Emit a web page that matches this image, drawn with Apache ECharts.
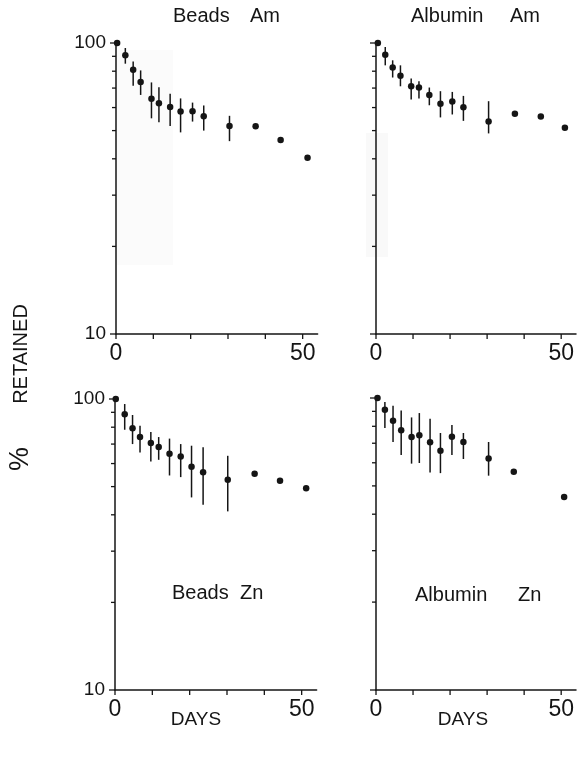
<!DOCTYPE html>
<html>
<head>
<meta charset="utf-8">
<script src="https://cdn.jsdelivr.net/npm/echarts@6/dist/echarts.min.js"></script>
<style>
  html, body { margin: 0; padding: 0; background: #fff; }
  #chart { width: 579px; height: 757px; }
</style>
</head>
<body>
<div id="chart"></div>
<script>
// ---- Retention data (% retained vs days), mean with error-bar range ----
const beadsAmDays  = [0.3, 2.5, 4.6, 6.6, 9.5, 11.5, 14.5, 17.3, 20.5, 23.5, 30.4, 37.4, 44.1, 51.3];
const beadsAmMean  = [100, 90.7, 80.9, 73.4, 64.3, 62.1, 60.3, 58.1, 58.3, 56.0, 51.9, 51.7, 46.4, 40.3];
const beadsAmHigh  = [null, 96.1, 86.4, 80.5, 73.2, 70.5, 66.9, 64.5, 62.4, 61.0, 56.2, null, null, null];
const beadsAmLow   = [null, 84.9, 71.3, 66.3, 55.1, 53.4, 51.9, 49.3, 53.7, 50.0, 46.0, null, null, null];

const albuminAmDays = [0.5, 2.5, 4.5, 6.6, 9.5, 11.6, 14.4, 17.4, 20.6, 23.6, 30.4, 37.5, 44.5, 51.0];
const albuminAmMean = [100, 91.2, 82.3, 77.1, 71.0, 70.3, 66.3, 61.8, 62.9, 60.2, 53.7, 57.1, 55.9, 51.1];
const albuminAmHigh = [null, 96.9, 87.2, 83.8, 75.5, 73.9, 70.3, 68.3, 67.9, 65.8, 63.1, null, null, null];
const albuminAmLow  = [null, 83.8, 76.1, 71.0, 63.9, 64.4, 61.1, 55.5, 56.8, 54.0, 48.9, null, null, null];

const beadsZnDays  = [0.2, 2.6, 4.7, 6.7, 9.6, 11.7, 14.6, 17.6, 20.5, 23.6, 30.2, 37.4, 44.2, 51.2];
const beadsZnMean  = [100, 88.6, 79.3, 74.0, 70.6, 68.4, 64.8, 63.5, 58.5, 56.0, 52.8, 55.3, 52.4, 49.4];
const beadsZnHigh  = [null, 96.1, 88.1, 81.0, 77.0, 74.0, 73.1, 70.0, 69.1, 68.2, 63.8, null, null, null];
const beadsZnLow   = [null, 78.4, 70.0, 65.5, 61.0, 61.8, 54.6, 53.9, 45.9, 43.3, 41.1, null, null, null];

const albuminZnDays = [0.4, 2.4, 4.6, 6.8, 9.6, 11.7, 14.6, 17.4, 20.5, 23.6, 30.4, 37.2, 50.8];
const albuminZnMean = [100, 91.2, 83.6, 77.5, 73.5, 74.6, 70.5, 66.0, 73.7, 70.7, 62.1, 55.9, 45.8];
const albuminZnHigh = [null, 96.9, 94.1, 90.7, 85.8, 88.8, 84.9, 75.9, 80.8, 75.9, 70.7, null, null];
const albuminZnLow  = [null, 78.9, 70.7, 63.8, 59.6, 59.9, 55.6, 55.3, 63.8, 61.8, 54.2, null, null];

// ---- Axis ticks ----
const xTickDays   = [0, 10, 20, 30, 40, 50];
const xLabelDays  = [0, 50];
const yTickValues = [10, 20, 30, 40, 50, 60, 70, 80, 90, 100];
const yMajorTicks = [10, 100];

// ---- Panel texts ----
const panelTitles = [
  ['Beads', 'Am'],
  ['Albumin', 'Am'],
  ['Beads', 'Zn'],
  ['Albumin', 'Zn']
];
const xAxisTitle = 'DAYS';
const yAxisTitle = 'RETAINED';
const yAxisUnit = '%';

const FONT = '"Liberation Sans", Arial, sans-serif';
const INK = '#151515';

const panels = [
  { days: beadsAmDays,   mean: beadsAmMean,   high: beadsAmHigh,   low: beadsAmLow },
  { days: albuminAmDays, mean: albuminAmMean, high: albuminAmHigh, low: albuminAmLow },
  { days: beadsZnDays,   mean: beadsZnMean,   high: beadsZnHigh,   low: beadsZnLow },
  { days: albuminZnDays, mean: albuminZnMean, high: albuminZnHigh, low: albuminZnLow }
];

const grids = [
  { left: 116, top: 43,  width: 201.6, height: 291 },
  { left: 376, top: 43,  width: 201.6, height: 291 },
  { left: 115, top: 399, width: 201.6, height: 291 },
  { left: 376, top: 398, width: 201.6, height: 292 }
];

const xAxes = grids.map((g, i) => ({
  type: 'value', gridIndex: i, min: 0, max: 54, interval: 10,
  axisLine: { show: true, lineStyle: { color: INK, width: 1.5 } },
  axisTick: { show: false },
  splitLine: { show: false },
  axisLabel: {
    margin: 8, fontSize: 23, fontFamily: FONT, color: INK,
    formatter: v => (xLabelDays.indexOf(v) >= 0 ? String(v) : '')
  }
}));

const yAxes = grids.map((g, i) => ({
  type: 'log', logBase: 10, gridIndex: i, min: 10, max: 100,
  axisLine: { show: true, lineStyle: { color: INK, width: 1.5 } },
  axisTick: { show: false },
  minorTick: { show: false },
  splitLine: { show: false },
  axisLabel: {
    show: i % 2 === 0, margin: 10, fontSize: 19, fontFamily: FONT, color: INK
  }
}));

const series = [];
panels.forEach((p, i) => {
  // vertical error bars
  const bars = [];
  p.days.forEach((d, k) => {
    if (p.high[k] != null && p.low[k] != null) bars.push([d, p.low[k], p.high[k]]);
  });
  series.push({
    type: 'custom', xAxisIndex: i, yAxisIndex: i, clip: false, silent: true,
    data: bars,
    renderItem: (params, api) => {
      const a = api.coord([api.value(0), api.value(1)]);
      const b = api.coord([api.value(0), api.value(2)]);
      return { type: 'line', shape: { x1: a[0], y1: a[1], x2: b[0], y2: b[1] },
               style: { stroke: INK, lineWidth: 1.5 } };
    }
  });
  // mean points
  series.push({
    type: 'scatter', xAxisIndex: i, yAxisIndex: i, silent: true,
    symbol: 'circle', symbolSize: 6.5,
    itemStyle: { color: INK, opacity: 1 },
    data: p.days.map((d, k) => [d, p.mean[k]])
  });
  // y ticks, pointing outward
  series.push({
    type: 'custom', xAxisIndex: i, yAxisIndex: i, clip: false, silent: true,
    data: yTickValues.map(v => [0, v]),
    renderItem: (params, api) => {
      const v = api.value(1);
      const c = api.coord([0, v]);
      const len = yMajorTicks.indexOf(v) >= 0 ? 6 : 4;
      return { type: 'line', shape: { x1: c[0] - len, y1: c[1], x2: c[0], y2: c[1] },
               style: { stroke: INK, lineWidth: 1.3 } };
    }
  });
  // x ticks, pointing outward
  series.push({
    type: 'custom', xAxisIndex: i, yAxisIndex: i, clip: false, silent: true,
    data: xTickDays.map(d => [d, 10]),
    renderItem: (params, api) => {
      const c = api.coord([api.value(0), 10]);
      return { type: 'line', shape: { x1: c[0], y1: c[1], x2: c[0], y2: c[1] + 5 },
               style: { stroke: INK, lineWidth: 1.3 } };
    }
  });
});

function label(text, x, y, size, align, extra) {
  return Object.assign({
    type: 'text', x: x, y: y, silent: true,
    style: { text: text, font: size + 'px ' + FONT, fill: INK,
             textAlign: align || 'left', textVerticalAlign: 'middle' }
  }, extra || {});
}

const graphics = [
  // faint paper shading
  { type: 'rect', z: -10, silent: true, shape: { x: 117, y: 50, width: 56, height: 215 },
    style: { fill: '#fbfbfb' } },
  { type: 'rect', z: -10, silent: true, shape: { x: 366, y: 133, width: 22, height: 124 },
    style: { fill: '#f9f9f9' } },
  label(panelTitles[0][0], 173, 16, 20),
  label(panelTitles[0][1], 250, 16, 20),
  label(panelTitles[1][0], 411, 16, 20),
  label(panelTitles[1][1], 510, 16, 20),
  label(panelTitles[2][0], 172, 593, 20),
  label(panelTitles[2][1], 240, 593, 20),
  label(panelTitles[3][0], 415, 595, 20),
  label(panelTitles[3][1], 518, 595, 20),
  label(xAxisTitle, 196, 720, 19, 'center'),
  label(xAxisTitle, 463, 720, 19, 'center'),
  label(yAxisTitle, 21, 354, 20, 'center', { rotation: Math.PI / 2 }),
  label(yAxisUnit, 21, 459, 27, 'center', { rotation: Math.PI / 2 })
];

const chart = echarts.init(document.getElementById('chart'), null, { renderer: 'canvas' });
chart.setOption({
  animation: false,
  backgroundColor: '#fff',
  grid: grids,
  xAxis: xAxes,
  yAxis: yAxes,
  series: series,
  graphic: graphics
});
</script>
</body>
</html>
